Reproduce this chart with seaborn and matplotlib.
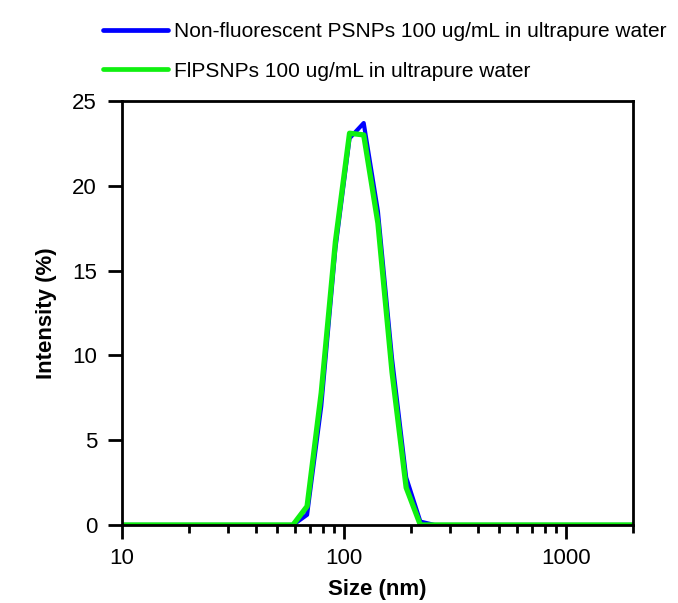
import numpy as np
import pandas as pd
import matplotlib
matplotlib.use("Agg")
import matplotlib.pyplot as plt
import seaborn as sns
from matplotlib.ticker import LogLocator, NullFormatter
from matplotlib.lines import Line2D

# Size bins (nm)
sizes = [8.721, 10.10, 11.70, 13.54, 15.69, 18.17, 21.04, 24.36, 28.21, 32.67,
         37.84, 43.82, 50.75, 58.77, 68.06, 78.82, 91.28, 105.7, 122.4, 141.8,
         164.2, 190.1, 220.2, 255.0, 295.3, 342.0, 396.1, 458.7, 531.2, 615.1,
         712.4, 825.0, 955.4, 1106, 1281, 1484, 1718, 1990, 2305]

# Intensity (%) per bin
intensity_nonfluo = [0, 0, 0, 0, 0, 0, 0, 0, 0, 0,
                     0, 0, 0, 0, 0.6, 7.0, 16.3, 22.8, 23.7, 18.5,
                     9.8, 2.8, 0.2, 0, 0, 0, 0, 0, 0, 0,
                     0, 0, 0, 0, 0, 0, 0, 0, 0]
intensity_fl = [0, 0, 0, 0, 0, 0, 0, 0, 0, 0,
                0, 0, 0, 0, 1.1, 7.8, 16.7, 23.1, 23.0, 17.8,
                9.0, 2.2, 0, 0, 0, 0, 0, 0, 0, 0,
                0, 0, 0, 0, 0, 0, 0, 0, 0]

labels = ["Non-fluorescent PSNPs 100 ug/mL in ultrapure water",
          "FlPSNPs 100 ug/mL in ultrapure water"]
colors = ["#0000FF", "#10F010"]
xticks = [10, 100, 1000]
xticklabels = ["10", "100", "1000"]
yticks = [0, 5, 10, 15, 20, 25]

df = pd.concat([
    pd.DataFrame({"Size": sizes, "Intensity": intensity_nonfluo, "Sample": labels[0]}),
    pd.DataFrame({"Size": sizes, "Intensity": intensity_fl, "Sample": labels[1]}),
])

sns.set_theme(style="ticks")
plt.rcParams["font.family"] = ["Liberation Sans", "DejaVu Sans"]
plt.rcParams["text.color"] = "black"
plt.rcParams["axes.labelcolor"] = "black"

fig = plt.figure(figsize=(6.78, 6.03), dpi=100)
ax = fig.add_axes([0.180, 0.1294, 0.754, 0.7031])

sns.lineplot(data=df, x="Size", y="Intensity", hue="Sample", palette=colors,
             hue_order=labels, ax=ax, sort=False, estimator=None, legend=False)
lines = ax.get_lines()
lines[0].set_linewidth(3.0)
lines[1].set_linewidth(3.8)

ax.set_xscale("log")
ax.set_xlim(10, 2000)
ax.set_ylim(0, 25)
ax.set_xticks(xticks)
ax.set_xticklabels(xticklabels)
ax.xaxis.set_minor_locator(LogLocator(base=10, subs=np.arange(2, 10)))
ax.xaxis.set_minor_formatter(NullFormatter())
ax.set_yticks(yticks)

for s in ax.spines.values():
    s.set_linewidth(2.0)
    s.set_color("black")
ax.tick_params(axis="both", which="major", direction="out", length=10, width=2,
               labelsize=16, colors="black")
ax.tick_params(axis="y", which="major", pad=8)
ax.tick_params(axis="x", which="major", pad=6.5)
ax.tick_params(axis="x", which="minor", direction="out", length=5.5, width=2,
               colors="black")
ax.tick_params(top=False, right=False, which="both")

ax.set_xlabel("Size (nm)", fontsize=16, fontweight="bold", labelpad=7.5,
              color="black")
ax.set_ylabel("Intensity (%)", fontsize=16, fontweight="bold", labelpad=11,
              color="black")

handles = [Line2D([], [], color=colors[0], lw=3.4, solid_capstyle="round"),
           Line2D([], [], color=colors[1], lw=3.4, solid_capstyle="round")]
fig.legend(handles, labels, loc="upper left", bbox_to_anchor=(0.130, 0.987),
           frameon=False, fontsize=15, handlelength=3.15, handletextpad=0.25,
           labelspacing=0.97, borderaxespad=0.3, labelcolor="black")

fig.savefig("out.png", dpi=100, facecolor="white")
